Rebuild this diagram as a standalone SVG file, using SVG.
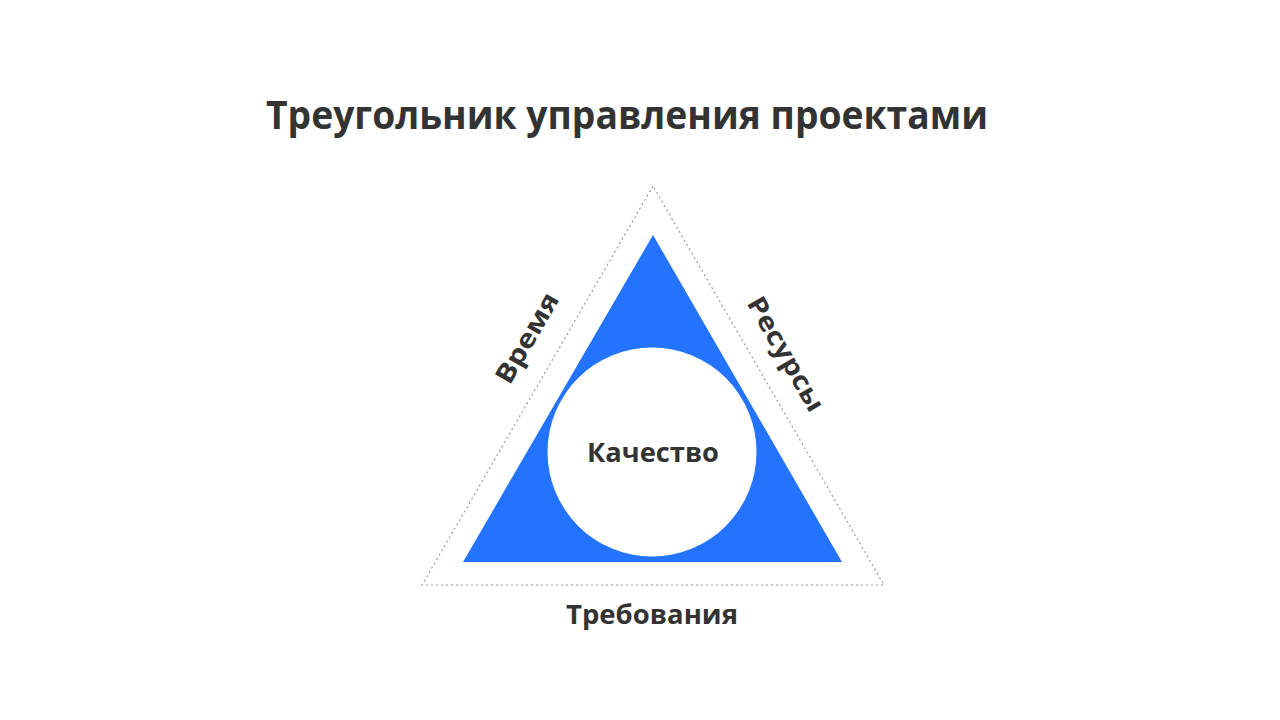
<svg xmlns="http://www.w3.org/2000/svg" width="1280" height="720" viewBox="0 0 1280 720">
<style>
.t{font-family:"Open Sans","Liberation Sans",sans-serif;font-weight:700;fill:#333333}
.dot{fill:none;stroke:#9a9a9a;stroke-width:1.2;stroke-dasharray:2 3}
</style>
<rect width="1280" height="720" fill="#ffffff"/>
<g id="title"><text class="t" x="627" y="129" font-size="39" text-anchor="middle" textLength="722" lengthAdjust="spacingAndGlyphs">Треугольник управления проектами</text></g>
<g id="outline"><polygon class="dot" points="653,186 422,585 884,585"/></g>
<g id="triangle"><polygon points="653,235 463,562 842,562" fill="#2373FF"/></g>
<g id="quality"><circle cx="652" cy="452" r="104.5" fill="#ffffff"/>
<text class="t" x="653" y="462" font-size="26" text-anchor="middle" textLength="132" lengthAdjust="spacingAndGlyphs">Качество</text></g>
<g id="time"><text class="t" transform="translate(527,338) rotate(-60)" x="0" y="9" font-size="26" text-anchor="middle" textLength="100" lengthAdjust="spacingAndGlyphs">Время</text></g>
<g id="resources"><text class="t" transform="translate(786,354) rotate(60)" x="0" y="9" font-size="26" text-anchor="middle" textLength="128" lengthAdjust="spacingAndGlyphs">Ресурсы</text></g>
<g id="requirements"><text class="t" x="652" y="624" font-size="26" text-anchor="middle" textLength="172" lengthAdjust="spacingAndGlyphs">Требования</text></g>
</svg>
